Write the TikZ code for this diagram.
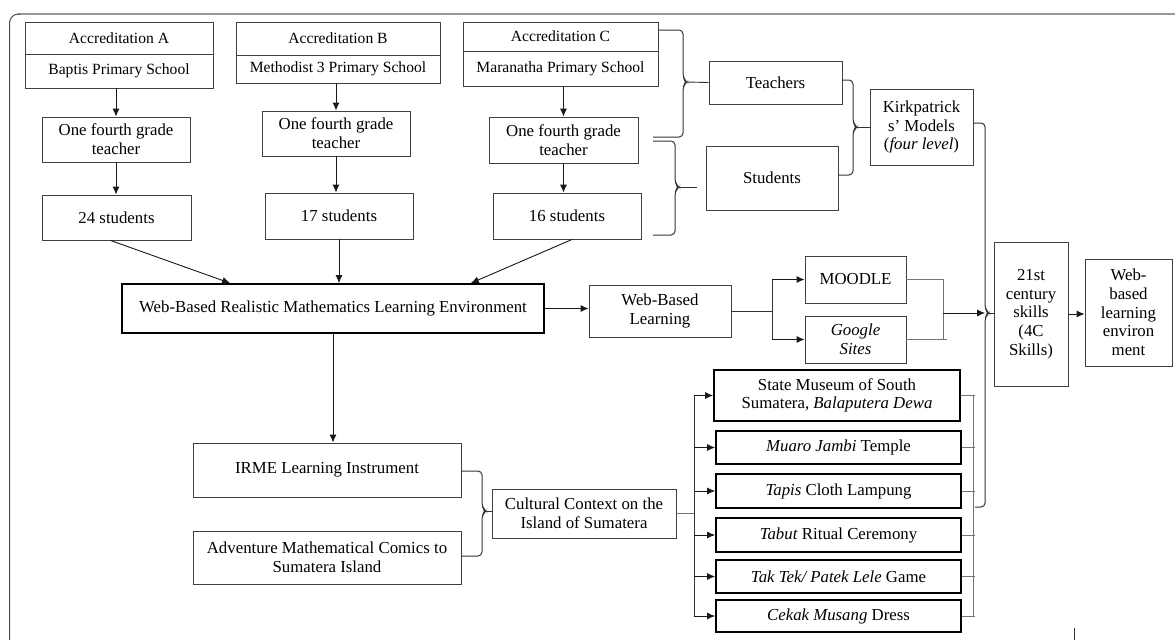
\documentclass[tikz,border=0pt]{standalone}
\usepackage{fontspec}
\setmainfont{Liberation Serif}
\usetikzlibrary{arrows.meta}
\begin{document}
\begin{tikzpicture}[x=1pt,y=-1pt,
  every node/.style={font=\fontsize{16.8}{18.7}\selectfont, text=black, inner sep=0pt, align=center},
  wh/.style 2 args={minimum width=#1,minimum height=#2},
  box/.style={draw=black!75, line width=0.9pt},
  tbox/.style={draw=black, line width=1.7pt},
  small/.style={font=\fontsize{15.6}{18}\selectfont},
  arr/.style={draw=black!90, line width=0.9pt, -{Latex[length=8pt,width=7pt]}},
  ln/.style={draw=black!80, line width=0.9pt},
  gln/.style={draw=black!55, line width=0.9pt},
  brc/.style={draw=black!80, line width=1pt, rounded corners=4pt}
]
\useasboundingbox (0,0) rectangle (1175,640);
% frame
\draw[black!40, line width=1.6pt] (18,14) -- (1175,14);
\draw[black!70, line width=1pt, rounded corners=9pt] (9.5,640) -- (9.5,14) -- (20,14);
\draw[black!80, line width=0.8pt] (1074,628) -- (1074,640);

% schools
\node[box,small,wh={188}{32}] (aT) at (119,38) {Accreditation A};
\node[box,small,wh={188}{34}] (aB) at (119,71) {Baptis Primary School};
\node[box,small,wh={204}{33}] (bT) at (338,38.5) {Accreditation B};
\node[box,small,wh={204}{28}] (bB) at (338,69) {Methodist 3 Primary School};
\node[box,small,wh={195}{29}] (cT) at (560.5,36.5) {Accreditation C};
\node[box,small,wh={195}{35}] (cB) at (560.5,68.5) {Maranatha Primary School};

% teachers
\node[box,wh={148}{45}] (tA) at (116,139.5) {One fourth grade\\teacher};
\node[box,wh={148}{45}] (tB) at (336,133.5) {One fourth grade\\teacher};
\node[box,wh={149}{46}] (tC) at (563.5,140) {One fourth grade\\teacher};

% students
\node[box,wh={149}{45}] (sA) at (116.5,217.5) {24 students};
\node[box,wh={148}{46}] (sB) at (339,216) {17 students};
\node[box,wh={148}{46}] (sC) at (567,216) {16 students};

\draw[arr] (tA.north |- aB.south) -- (tA.north);
\draw[arr] (tA.south) -- (tA.south |- sA.north);
\draw[arr] (tB.north |- bB.south) -- (tB.north);
\draw[arr] (tB.south) -- (tB.south |- sB.north);
\draw[arr] (tC.north |- cB.south) -- (tC.north);
\draw[arr] (tC.south) -- (tC.south |- sC.north);

% main box
\node[tbox,wh={422}{49}] (wb) at (333,308.5) {Web-Based Realistic Mathematics Learning Environment};
\draw[arr] ([xshift=-6pt]sA.south) -- ([xshift=109pt]wb.north west);
\draw[arr] (sB.south) -- (sB.south |- wb.north);
\draw[arr] ([xshift=5pt]sC.south) -- ([xshift=-74pt]wb.north east);

% web-based learning
\node[box,wh={142}{52}] (wbl) at (660,311) {Web-Based\\Learning};
\draw[arr] (wb.east) -- (wb.east -| wbl.west);
\node[box,wh={101}{47}] (mo) at (855.5,279.5) {MOODLE};
\node[box,wh={101}{47}] (gs) at (855.5,339.5) {\textit{Google}\\\textit{Sites}};
\draw[ln] (wbl.east) -- ++(41pt,0) coordinate (br1);
\draw[ln] (br1 |- mo.west) -- (br1 |- gs.west);
\draw[arr] (br1 |- mo.west) -- (mo.west);
\draw[arr] (br1 |- gs.west) -- (gs.west);
\coordinate (m1) at (943,313);
\draw[gln] (mo.east) -- (mo.east -| m1) -- (gs.east -| m1);
\draw[gln] (gs.east) -- ([xshift=4pt]gs.east -| m1);

% 21st century
\node[box,wh={74}{144}] (k21) at (1031,314) {21st\\century\\skills\\(4C\\Skills)};
\node[box,wh={87}{107}] (wble) at (1128.5,312.5) {Web-\\based\\learning\\environ\\ment};
\draw[arr] (k21.east) -- (k21.east -| wble.west);
\coordinate (sp) at (985,313);
\draw[arr] (m1) -- (sp);

% teachers / students / Kirkpatrick
\node[box,wh={133}{43}] (tea) at (775.5,82.5) {Teachers};
\node[box,wh={132}{64}] (stu) at (772,178) {Students};
\node[box,wh={103}{76}] (kirk) at (921.5,127) {Kirkpatrick\\s’ Models\\(\textit{four level})};

% braces
\draw[brc] (658,30) -- (683,30) -- (683,78) -- (687,82) -- (683,86) -- (683,137) -- (653,137);
\draw[ln] (686,82) -- (tea.west);
\draw[brc] (653,141) -- (675,141) -- (675,183) -- (679,187) -- (675,191) -- (675,235) -- (653,235);
\draw[ln] (678,187) -- (697,187);
\draw[brc] (tea.east |- 0,80) -- (853,80) -- (853,123) -- (857,127) -- (853,131) -- (853,175) -- (stu.east |- 0,175);
\draw[ln] (856,127) -- (kirk.west);
\draw[brc] (kirk.east |- 0,123) -- (985,123) -- (985,309) -- (989,313) -- (985,317) -- (985,507) -- (975,507);
\draw[ln] (988,313) -- (k21.west |- 0,313);

% lower part
\node[box,wh={268}{54}] (irme) at (327,470) {IRME Learning Instrument};
\node[box,wh={268}{53}] (adv) at (327,557.5) {Adventure Mathematical Comics to\\Sumatera Island};
\draw[arr] (wb.south) -- (wb.south |- irme.north);
\node[box,wh={184}{49}] (cult) at (584,513.5) {Cultural Context on the\\Island of Sumatera};
\draw[brc] (irme.east |- 0,471) -- (482,471) -- (482,507) -- (486,511) -- (482,515) -- (482,556) -- (adv.east |- 0,556);
\draw[ln] (485,511) -- (cult.west |- 0,511);

% cultural boxes
\node[tbox,wh={246}{51}] (cb1) at (837,395.5) {State Museum of South\\Sumatera, \textit{Balaputera Dewa}};
\node[tbox,wh={245}{33}] (cb2) at (838.5,447.5) {\textit{Muaro Jambi} Temple};
\node[tbox,wh={245}{34}] (cb3) at (838.5,491) {\textit{Tapis} Cloth Lampung};
\node[tbox,wh={245}{34}] (cb4) at (838.5,535) {\textit{Tabut} Ritual Ceremony};
\node[tbox,wh={245}{33}] (cb5) at (838.5,576.5) {\textit{Tak Tek/ Patek Lele} Game};
\node[tbox,wh={245}{32}] (cb6) at (838.5,616) {\textit{Cekak Musang} Dress};

\coordinate (fx) at (694,509);
\draw[gln] (cult.east) -- (cult.east -| fx);
\draw[ln] (fx |- cb1.west) -- (fx |- cb6.west);
\foreach \i in {1,...,6} {
  \draw[arr] (fx |- cb\i.west) -- (cb\i.west);
}
\coordinate (rx) at (973,0);
\draw[gln] (rx |- cb1.east) -- (rx |- cb6.east);
\foreach \i in {1,...,6} {
  \draw[gln] (cb\i.east) -- ([xshift=2pt]rx |- cb\i.east);
}
\end{tikzpicture}
\end{document}
